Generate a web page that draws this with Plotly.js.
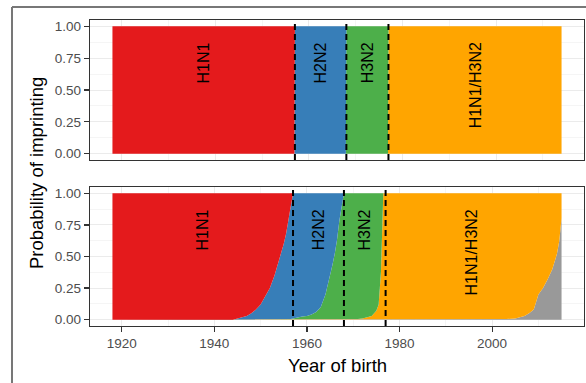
<!DOCTYPE html>
<html>
<head>
<meta charset="utf-8">
<script src="https://cdn.plot.ly/plotly-3.0.1.min.js"></script>
<style>
  html, body { margin: 0; padding: 0; background: #ffffff; }
  #chart { width: 586px; height: 383px; }
</style>
</head>
<body>
<div id="chart"></div>
<script>
// ---------- data ----------
const subtypes = ["H1N1", "H2N2", "H3N2", "H1N1/H3N2"];
const labelYears = [1937.5, 1962.5, 1972.5, 1995.5];
const pandemicYears = [1957, 1968, 1977];

// top panel: deterministic imprinting (step at each pandemic year)
const yearsTop = [1918, 1956.9, 1957, 1967.9, 1968, 1976.9, 1977, 2014];
const h1n1Top  = [1, 1, 0, 0, 0, 0, 0, 0];
const h2n2Top  = [0, 0, 1, 1, 0, 0, 0, 0];
const h3n2Top  = [0, 0, 0, 0, 1, 1, 0, 0];
const h1h3Top  = [0, 0, 0, 0, 0, 0, 1, 1];

// bottom panel: probabilistic imprinting
const yearsBot = [1918,1940,1944,1945,1946,1947,1948,1949,1950,1951,
                  1952,1953,1954,1955,1955.5,1956,1956.5,1957,1958,1959,
                  1960,1961,1962,1963,1964,1965,1965.5,1966,1966.5,1967,
                  1967.5,1968,1969,1970,1971,1972,1973,1974,1975,1975.5,
                  1976,1976.25,1976.5,1977,1980,1990,2000,2003,2005,2006,
                  2007,2008,2009,2010,2011,2012,2013,2014,2014.5,2015];
const h1n1Bot = [1,1,1,0.99,0.98,0.97,0.95,0.92,0.88,0.82,
                 0.75,0.65,0.53,0.40,0.32,0.22,0.10,0,0,0,
                 0,0,0,0,0,0,0,0,0,0,
                 0,0,0,0,0,0,0,0,0,0,
                 0,0,0,0,0,0,0,0,0,0,
                 0,0,0,0,0,0,0,0,0,0];
const h2n2Bot = [0,0,0,0.01,0.02,0.03,0.05,0.08,0.12,0.18,
                 0.25,0.35,0.47,0.60,0.68,0.78,0.895,0.99,0.98,0.975,
                 0.97,0.96,0.94,0.90,0.80,0.66,0.57,0.48,0.37,0.22,
                 0.09,0,0,0,0,0,0,0,0,0,
                 0,0,0,0,0,0,0,0,0,0,
                 0,0,0,0,0,0,0,0,0,0];
const h3n2Bot = [0,0,0,0,0,0,0,0,0,0,
                 0,0,0,0,0,0,0.005,0.01,0.02,0.025,
                 0.03,0.04,0.06,0.10,0.20,0.34,0.43,0.52,0.63,0.78,
                 0.91,1,1,1,0.995,0.99,0.98,0.97,0.93,0.88,
                 0.62,0.30,0,0,0,0,0,0,0,0,
                 0,0,0,0,0,0,0,0,0,0];
const h1h3Bot = [0,0,0,0,0,0,0,0,0,0,
                 0,0,0,0,0,0,0,0,0,0,
                 0,0,0,0,0,0,0,0,0,0,
                 0,0,0,0,0.005,0.01,0.02,0.03,0.07,0.12,
                 0.38,0.70,1,1,1,1,1,0.995,0.99,0.98,
                 0.97,0.95,0.92,0.80,0.75,0.68,0.60,0.48,0.38,0.20];
const naiveBot = [0,0,0,0,0,0,0,0,0,0,
                  0,0,0,0,0,0,0,0,0,0,
                  0,0,0,0,0,0,0,0,0,0,
                  0,0,0,0,0,0,0,0,0,0,
                  0,0,0,0,0,0,0,0.005,0.01,0.02,
                  0.03,0.05,0.08,0.20,0.25,0.32,0.40,0.52,0.62,0.80];

const yTicks = [0, 0.25, 0.5, 0.75, 1];
const yTickText = ["0.00", "0.25", "0.50", "0.75", "1.00"];
const xTicks = [1920, 1940, 1960, 1980, 2000];

// ---------- styles ----------
const colors = {
  "H1N1": "#E41A1C", "H2N2": "#377EB8", "H3N2": "#4DAF4A",
  "H1N1/H3N2": "#FFA500", "naive": "#999999"
};
const FONT = "Liberation Sans, Arial, Helvetica, sans-serif";

function area(x, y, name, xa, ya, grp) {
  return {
    type: "scatter", mode: "lines", x: x, y: y, name: name,
    xaxis: xa, yaxis: ya, stackgroup: grp,
    line: { width: 0, color: colors[name] },
    fillcolor: colors[name], hoverinfo: "skip", showlegend: false
  };
}

const traces = [
  // bottom (stack order: naive at bottom, H1N1 on top)
  area(yearsBot, naiveBot, "naive", "x", "y", "bot"),
  area(yearsBot, h1h3Bot, "H1N1/H3N2", "x", "y", "bot"),
  area(yearsBot, h3n2Bot, "H3N2", "x", "y", "bot"),
  area(yearsBot, h2n2Bot, "H2N2", "x", "y", "bot"),
  area(yearsBot, h1n1Bot, "H1N1", "x", "y", "bot"),
  // top
  area(yearsTop, h1h3Top, "H1N1/H3N2", "x2", "y2", "top"),
  area(yearsTop, h3n2Top, "H3N2", "x2", "y2", "top"),
  area(yearsTop, h2n2Top, "H2N2", "x2", "y2", "top"),
  area(yearsTop, h1n1Top, "H1N1", "x2", "y2", "top")
];

const gridCol = "#EBEBEB";
const axisCol = "#333333";
const commonX = {
  showline: true, mirror: true, linecolor: axisCol, linewidth: 1.2,
  showgrid: true, gridcolor: gridCol, gridwidth: 1, zeroline: false,
  tickmode: "array", tickvals: xTicks,
  minor: { dtick: 10, tick0: 1920, showgrid: true, gridcolor: gridCol, gridwidth: 0.5 },
  tickfont: { family: FONT, size: 13.5, color: "#4D4D4D" }
};
const commonY = {
  showline: true, mirror: true, linecolor: axisCol, linewidth: 1.2,
  showgrid: true, gridcolor: gridCol, gridwidth: 1, zeroline: false,
  range: [-0.05, 1.05], tickmode: "array", tickvals: yTicks, ticktext: yTickText,
  ticks: "outside", ticklen: 5, tickwidth: 1.2, tickcolor: axisCol,
  minor: { dtick: 0.125, tick0: 0, showgrid: true, gridcolor: gridCol, gridwidth: 0.5 },
  tickfont: { family: FONT, size: 13.5, color: "#4D4D4D" }
};

const shapes = [];
pandemicYears.forEach(function (yr) {
  shapes.push({ type: "line", xref: "x", yref: "y domain", x0: yr, x1: yr, y0: 0, y1: 1,
    line: { color: "#000000", width: 2, dash: "6px,4px" }, layer: "above" });
  shapes.push({ type: "line", xref: "x2", yref: "y2 domain", x0: yr, x1: yr, y0: 0, y1: 1,
    line: { color: "#000000", width: 2, dash: "6px,4px" }, layer: "above" });
});
// outer frame (left and top edges)
shapes.push({ type: "line", xref: "paper", yref: "paper", x0: -0.1579, x1: -0.1579, y0: 1.0425, y1: -0.2,
  line: { color: "#777777", width: 2 } });
shapes.push({ type: "line", xref: "paper", yref: "paper", x0: -0.1579, x1: 1.01, y0: 1.0425, y1: 1.0425,
  line: { color: "#777777", width: 2 } });

const annotations = [];
subtypes.forEach(function (s, i) {
  [["x", "y"], ["x2", "y2"]].forEach(function (ax) {
    annotations.push({
      text: s, x: labelYears[i], y: 0.89, xref: ax[0], yref: ax[1],
      xanchor: "center", yanchor: "top", textangle: -90, showarrow: false,
      font: { family: FONT, size: 16, color: "#000000" }
    });
  });
});
annotations.push({
  text: "Year of birth", xref: "paper", yref: "paper", x: 0.5, y: -0.1275,
  xanchor: "center", yanchor: "middle", showarrow: false,
  font: { family: FONT, size: 18.5, color: "#000000" }
});
annotations.push({
  text: "Probability of imprinting", xref: "paper", yref: "paper", x: -0.1093, y: 0.5,
  xanchor: "center", yanchor: "middle", textangle: -90, showarrow: false,
  font: { family: FONT, size: 18.5, color: "#000000" }
});

const layout = {
  width: 586, height: 383, autosize: false,
  margin: { l: 90, r: 2, t: 20, b: 57, pad: 0 },
  paper_bgcolor: "#ffffff", plot_bgcolor: "#ffffff",
  font: { family: FONT },
  showlegend: false,
  xaxis: Object.assign({}, commonX, {
    anchor: "y", domain: [0, 1], range: [1913.15, 2019.85],
    ticks: "outside", ticklen: 5, tickwidth: 1.2, tickcolor: axisCol, showticklabels: true
  }),
  yaxis: Object.assign({}, commonY, { anchor: "x", domain: [0, 0.4542] }),
  xaxis2: Object.assign({}, commonX, {
    anchor: "y2", domain: [0, 1], range: [1913.2, 2018.8],
    ticks: "", showticklabels: false
  }),
  yaxis2: Object.assign({}, commonY, { anchor: "x2", domain: [0.5425, 1] }),
  shapes: shapes,
  annotations: annotations
};

Plotly.newPlot("chart", traces, layout, { staticPlot: true, displayModeBar: false });
</script>
</body>
</html>
